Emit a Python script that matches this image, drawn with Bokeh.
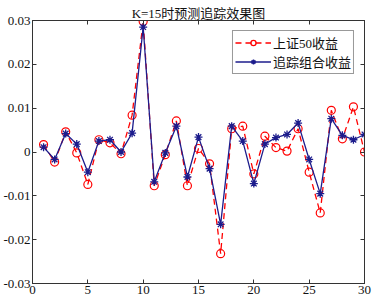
from bokeh.plotting import figure
from bokeh.models import (LinearAxis, FixedTicker, CustomJSTickFormatter, Range1d,
                          Legend, LegendItem)
from bokeh.embed import file_html
from bokeh.resources import INLINE

x = list(range(1, 31))
sz50 = [0.0017, -0.0023, 0.0046, -0.0002, -0.0074, 0.0028, 0.0021, -0.0004, 0.0084, 0.0298,
        -0.0077, -0.0006, 0.0071, -0.0077, 0.0008, -0.0027, -0.0232, 0.0053, 0.0059, -0.0050,
        0.0036, 0.0010, 0.0002, 0.0053, -0.0046, -0.0139, 0.0095, 0.0030, 0.0103, 0.0000]
track = [0.0011, -0.0017, 0.0042, 0.0018, -0.0046, 0.0025, 0.0028, 0.0000, 0.0043, 0.0285,
         -0.0068, -0.0002, 0.0059, -0.0057, 0.0034, -0.0038, -0.0165, 0.0059, 0.0025, -0.0072,
         0.0018, 0.0033, 0.0040, 0.0066, -0.0017, -0.0095, 0.0076, 0.0038, 0.0028, 0.0040]
title_text = "K=15时预测追踪效果图"
labels = ["上证50收益", "追踪组合收益"]
xticks = [0, 5, 10, 15, 20, 25, 30]
yticks = [-0.03, -0.02, -0.01, 0, 0.01, 0.02, 0.03]

FONT = "Liberation Serif, Times New Roman, Noto Sans CJK SC, serif"
RED = "#ff0000"
BLUE = "#1c1c8c"
AX = "#333333"

p = figure(width=378, height=298, output_backend="svg", toolbar_location=None,
           x_range=Range1d(0, 30), y_range=Range1d(-0.03, 0.03),
           min_border_left=32, min_border_right=14, min_border_top=20, min_border_bottom=15,
           title=title_text)
p.title.align = "center"
p.title.text_font = FONT
p.title.text_font_size = "13px"
p.title.text_font_style = "normal"
p.title.text_color = "#111111"
p.title.offset = 0
p.title.standoff = 0

p.xgrid.visible = False
p.ygrid.visible = False
p.outline_line_color = AX
p.background_fill_color = "white"
p.border_fill_color = "white"

yfmt = CustomJSTickFormatter(code="return tick == 0 ? '0' : tick.toFixed(2);")
blank = CustomJSTickFormatter(code="return '';")

def style(ax):
    ax.axis_line_color = AX
    ax.major_tick_line_color = AX
    ax.major_tick_in = 4
    ax.major_tick_out = 0
    ax.minor_tick_line_color = None
    ax.major_label_text_font = FONT
    ax.major_label_text_font_size = "13px"
    ax.major_label_text_color = "#111111"
    ax.major_label_standoff = 2

p.xaxis.ticker = FixedTicker(ticks=xticks)
p.yaxis.ticker = FixedTicker(ticks=yticks)
p.yaxis.formatter = yfmt
style(p.xaxis[0])
style(p.yaxis[0])

top = LinearAxis(ticker=FixedTicker(ticks=xticks), formatter=blank)
right = LinearAxis(ticker=FixedTicker(ticks=yticks), formatter=blank)
style(top)
style(right)
top.major_label_standoff = 0
right.major_label_standoff = 0
p.add_layout(top, "above")
p.add_layout(right, "right")

r1 = p.line(x, sz50, line_color=RED, line_dash="6 4", line_width=1.3)
s1 = p.scatter(x, sz50, marker="circle", size=8, fill_color=None, line_color=RED, line_width=1.2)
r2 = p.line(x, track, line_color=BLUE, line_width=1.3)
s2 = p.scatter(x, track, marker="asterisk", size=8, line_color=BLUE, line_width=1.3)

legend = Legend(items=[LegendItem(label=labels[0], renderers=[r1, s1]),
                       LegendItem(label=labels[1], renderers=[r2, s2])],
                location="top_right")
legend.margin = 10
legend.padding = 2
legend.spacing = 0
legend.glyph_width = 36
legend.glyph_height = 13
legend.label_height = 8
legend.label_standoff = 2
legend.label_text_font = FONT
legend.label_text_font_size = "13px"
legend.label_text_line_height = 0.8
legend.label_text_color = "#111111"
legend.border_line_color = AX
legend.background_fill_alpha = 1
p.add_layout(legend)

open("out.html", "w").write(file_html(p, INLINE))
